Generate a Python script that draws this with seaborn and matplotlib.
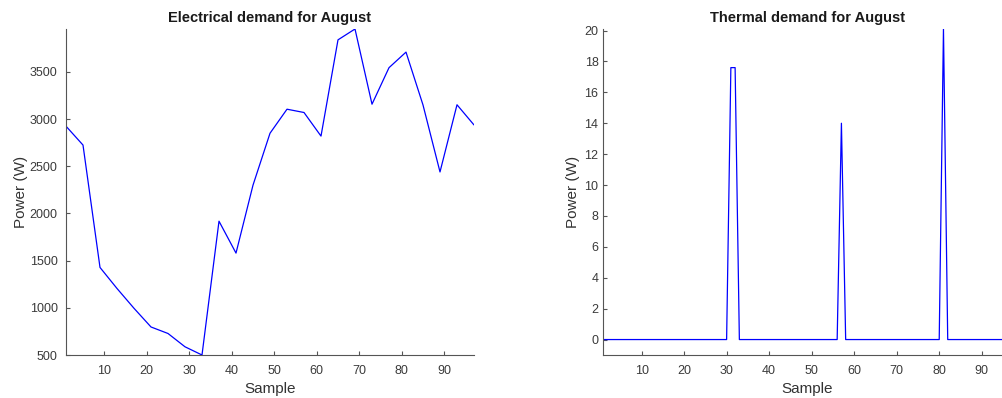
import matplotlib
matplotlib.use("Agg")
import matplotlib.pyplot as plt
import seaborn as sns
import numpy as np
import pandas as pd

# ---- data ----
elec_sample = [1, 5, 9, 13, 17, 21, 25, 29, 33, 37, 41, 45, 49, 53, 57, 61, 65, 69, 73, 77, 81, 85, 89, 93, 97]
elec_power = [2925, 2725, 1428, 1205, 995, 797, 728, 587, 500, 1918, 1580, 2300, 2850, 3105, 3070, 2820,
              3840, 3955, 3158, 3545, 3710, 3150, 2440, 3152, 2938]

therm_sample = list(range(1, 98))
therm_power = [
    0, 0, 0, 0, 0, 0, 0, 0, 0, 0,      # 1-10
    0, 0, 0, 0, 0, 0, 0, 0, 0, 0,      # 11-20
    0, 0, 0, 0, 0, 0, 0, 0, 0, 0,      # 21-30
    17.6, 17.6, 0, 0, 0, 0, 0, 0, 0, 0,  # 31-40
    0, 0, 0, 0, 0, 0, 0, 0, 0, 0,      # 41-50
    0, 0, 0, 0, 0, 0, 14.0, 0, 0, 0,   # 51-60
    0, 0, 0, 0, 0, 0, 0, 0, 0, 0,      # 61-70
    0, 0, 0, 0, 0, 0, 0, 0, 0, 0,      # 71-80
    20.1, 0, 0, 0, 0, 0, 0, 0, 0, 0,   # 81-90
    0, 0, 0, 0, 0, 0, 0,               # 91-97
]

titles = ["Electrical demand for August", "Thermal demand for August"]
xlabel = "Sample"
ylabel = "Power (W)"
xticks = [10, 20, 30, 40, 50, 60, 70, 80, 90]
elec_yticks = [500, 1000, 1500, 2000, 2500, 3000, 3500]
therm_yticks = [0, 2, 4, 6, 8, 10, 12, 14, 16, 18, 20]

# ---- style ----
sns.set_style("ticks")
plt.rcParams['font.family'] = ['Liberation Sans', 'DejaVu Sans']
axcol = "#555555"
plt.rcParams.update({
    "axes.edgecolor": axcol,
    "xtick.color": axcol,
    "ytick.color": axcol,
    "xtick.labelcolor": "#3a3a3a",
    "ytick.labelcolor": "#3a3a3a",
    "xtick.direction": "in",
    "ytick.direction": "in",
    "xtick.major.size": 3,
    "ytick.major.size": 3,
    "axes.linewidth": 0.8,
})

fig = plt.figure(figsize=(10.03, 3.98), dpi=100)
ax1 = fig.add_axes([66 / 1003, 43 / 398, 408 / 1003, 326 / 398])
ax2 = fig.add_axes([603.3 / 1003, 43 / 398, 408.2 / 1003, 326 / 398])

df_e = pd.DataFrame({"Sample": elec_sample, "Power": elec_power})
df_t = pd.DataFrame({"Sample": therm_sample, "Power": therm_power})

sns.lineplot(data=df_e, x="Sample", y="Power", ax=ax1, color="#0000ff", linewidth=0.9)
sns.lineplot(data=df_t, x="Sample", y="Power", ax=ax2, color="#0000ff", linewidth=0.9)

ax1.set_xlim(1, 97)
ax1.set_ylim(500, 3955)
ax1.set_yticks(elec_yticks)
ax2.set_xlim(1, 97)
ax2.set_ylim(-1, 20.1)
ax2.set_yticks(therm_yticks)

for ax, t, ypad, ylp in zip([ax1, ax2], titles, [6, 3.5], [1.5, 3.5]):
    ax.set_xticks(xticks)
    ax.set_title(t, fontsize=10.5, fontweight="bold", color="#1a1a1a", pad=5)
    ax.set_xlabel(xlabel, fontsize=11, color="#333333", labelpad=4)
    ax.set_ylabel(ylabel, fontsize=11, color="#333333", labelpad=ylp)
    ax.tick_params(axis="x", labelsize=9, pad=7)
    ax.tick_params(axis="y", labelsize=9, pad=ypad)
    sns.despine(ax=ax)

fig.savefig("out.png", dpi=100)
